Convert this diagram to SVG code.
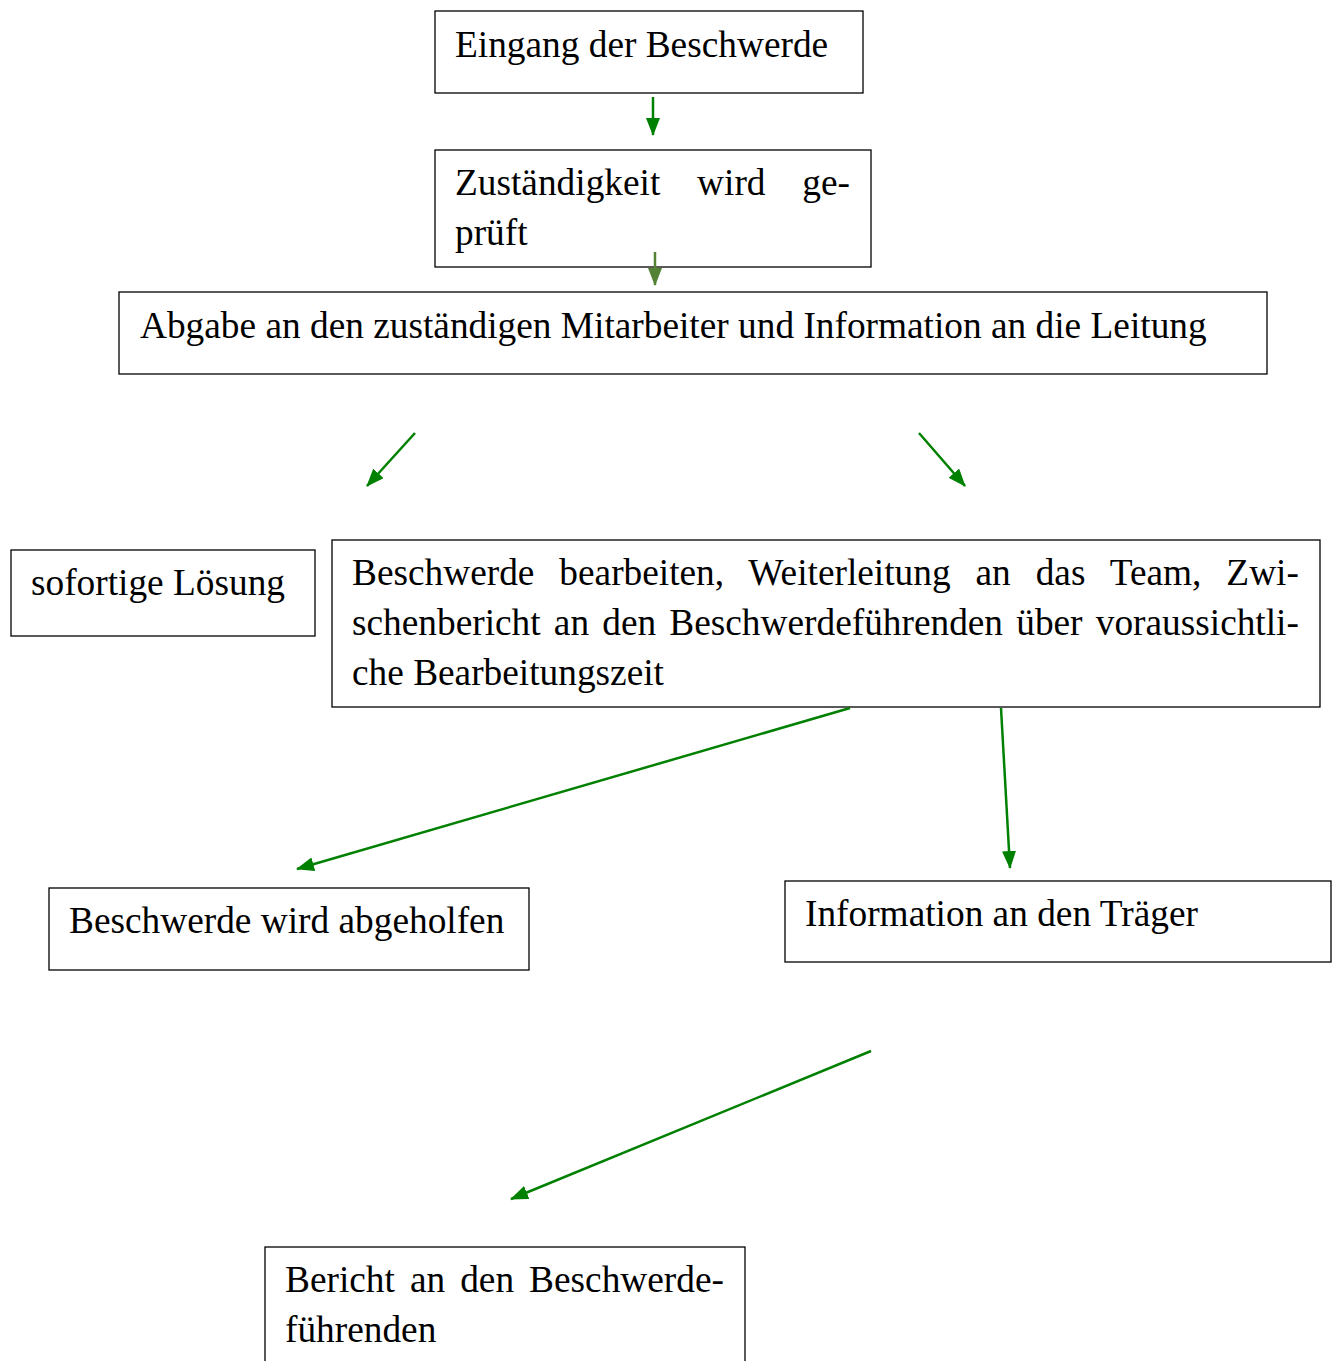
<svg xmlns="http://www.w3.org/2000/svg" width="1332" height="1361" viewBox="0 0 1332 1361">
<style>
.box{fill:#fff;stroke:#000;stroke-width:1.3}
.t{font-family:"Liberation Serif","Times New Roman",serif;font-size:37.33px;fill:#000}
.c{stroke:#008000;stroke-width:2.5;fill:none;marker-end:url(#ah)}
.c2{stroke:#548235;stroke-width:2.5;fill:none;marker-end:url(#ah2)}
</style>
<defs>
<marker id="ah" markerWidth="18" markerHeight="14" refX="17" refY="7" orient="auto" markerUnits="userSpaceOnUse" viewBox="0 0 18 14"><path d="M0,0 L18,7 L0,14 z" fill="#008000"/></marker>
<marker id="ah2" markerWidth="18" markerHeight="14" refX="17" refY="7" orient="auto" markerUnits="userSpaceOnUse" viewBox="0 0 18 14"><path d="M0,0 L18,7 L0,14 z" fill="#548235"/></marker>
</defs>
<rect width="1332" height="1361" fill="#fff"/>
<g id="n1"><rect class="box" x="435" y="11" width="428" height="82"/><text class="t" x="455" y="57">Eingang der Beschwerde</text></g>
<g id="n2"><rect class="box" x="435" y="150" width="436" height="117"/><text class="t" x="455" y="195" word-spacing="27.5">Zuständigkeit wird ge-</text><text class="t" x="455" y="245">prüft</text></g>
<g id="n3"><rect class="box" x="119" y="292" width="1148" height="82"/><text class="t" x="140" y="338">Abgabe an den zuständigen Mitarbeiter und Information an die Leitung</text></g>
<g id="n4"><rect class="box" x="11" y="550" width="304" height="86"/><text class="t" x="31" y="595">sofortige Lösung</text></g>
<g id="n5"><rect class="box" x="332" y="540" width="988" height="167"/><text class="t" x="352" y="585" word-spacing="15.6">Beschwerde bearbeiten, Weiterleitung an das Team, Zwi-</text><text class="t" x="352" y="635" word-spacing="3.85">schenbericht an den Beschwerdeführenden über voraussichtli-</text><text class="t" x="352" y="685">che Bearbeitungszeit</text></g>
<g id="n6"><rect class="box" x="49" y="888" width="480" height="82"/><text class="t" x="69" y="933">Beschwerde wird abgeholfen</text></g>
<g id="n7"><rect class="box" x="785" y="881" width="546" height="81"/><text class="t" x="805" y="926">Information an den Träger</text></g>
<g id="n8"><rect class="box" x="265" y="1247" width="480" height="130"/><text class="t" x="285" y="1292" word-spacing="5.7">Bericht an den Beschwerde-</text><text class="t" x="285" y="1342">führenden</text></g>
<g id="connectors">
<line class="c" x1="653" y1="97" x2="653" y2="135"/>
<line class="c2" x1="655" y1="252" x2="655" y2="285"/>
<line class="c" x1="415" y1="433" x2="367" y2="486"/>
<line class="c" x1="919" y1="433" x2="965" y2="486"/>
<line class="c" x1="850" y1="708" x2="297" y2="869"/>
<line class="c" x1="1001" y1="708" x2="1010" y2="868"/>
<line class="c" x1="871" y1="1051" x2="511" y2="1199"/>
</g>
</svg>
